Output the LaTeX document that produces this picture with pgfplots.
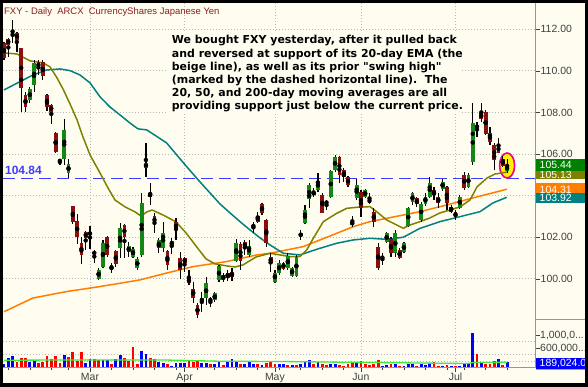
\documentclass[border=0pt]{standalone}
\usepackage{fontspec}
\setmainfont{Liberation Sans}
\newfontfamily\notefont{DejaVu Sans}
\usepackage{pgfplots}
\usepackage{pgfplotstable}
\pgfplotsset{compat=1.18}
\definecolor{bgcream}{RGB}{255,253,240}
\definecolor{upgreen}{RGB}{20,135,20}
\definecolor{dnred}{RGB}{140,15,15}
\definecolor{ma20}{RGB}{128,128,0}
\definecolor{ma50}{RGB}{0,128,128}
\definecolor{ma200}{RGB}{255,125,0}
\definecolor{boxgreen}{RGB}{0,128,0}
\definecolor{volblue}{RGB}{0,0,255}
\definecolor{volred}{RGB}{255,0,0}
\definecolor{volmacol}{RGB}{60,235,60}
\definecolor{axgray}{RGB}{64,64,64}
\definecolor{sepgray}{RGB}{150,150,150}
\definecolor{gridgray}{RGB}{185,185,185}
\definecolor{titlered}{RGB}{140,30,30}
\definecolor{lineblue}{RGB}{60,60,255}
\newcommand\axfont{\fontsize{10.5}{12}\selectfont}
\newcommand\B[2]{(#1bp,#2bp)}

\pgfplotstableread{
i o h l c
2 111.68 112.45 111.34 111.78
6 108.60 109.23 108.46 109.13
7 109.32 110.52 108.99 110.38
13 105.65 105.76 105.48 105.70
14 105.76 107.69 105.48 107.16
15 105.09 105.76 104.85 105.52
20 102.11 102.54 101.44 102.25
22 99.99 100.52 99.95 100.43
23 100.57 101.87 100.52 101.73
25 100.43 100.76 100.28 100.67
27 101.49 102.69 101.00 102.45
29 101.29 101.77 101.05 101.58
30 101.05 101.53 101.00 101.44
31 100.52 101.05 100.43 100.96
32 101.15 104.13 101.05 103.65
33 105.33 106.53 104.90 105.57
36 101.49 101.97 101.25 101.87
37 101.49 102.74 101.29 102.21
46 98.89 99.37 98.41 99.08
47 99.08 100.09 98.75 99.80
49 98.98 99.37 98.89 99.32
50 99.95 100.67 99.85 100.62
51 99.95 100.28 99.85 100.19
54 100.86 101.92 100.81 101.73
57 101.15 101.87 101.05 101.58
58 102.50 102.74 102.21 102.59
63 99.87 100.43 99.80 100.30
64 100.27 100.91 100.19 100.75
66 100.51 101.25 100.43 101.10
67 100.14 100.59 100.11 100.51
68 100.14 101.15 100.11 101.07
69 102.06 102.35 101.87 102.19
70 102.67 103.55 102.64 103.31
71 103.83 104.59 103.39 104.51
73 104.27 105.08 104.19 104.72
75 103.63 103.79 103.31 103.71
76 103.92 105.24 103.88 105.20
77 105.23 105.96 105.15 105.87
81 102.59 103.02 102.51 102.75
82 103.87 104.79 103.79 104.51
84 103.95 104.31 103.87 104.27
88 100.94 101.23 100.67 101.10
89 101.79 102.27 101.71 102.19
91 101.23 102.35 101.04 102.22
93 101.31 101.79 101.23 101.71
94 102.54 103.47 102.48 103.39
95 103.71 104.19 103.55 104.11
97 102.83 103.70 102.74 103.60
98 103.60 104.13 103.51 103.94
99 103.94 104.90 103.89 104.61
102 104.32 104.80 104.23 104.66
106 103.41 104.03 103.36 103.94
108 104.42 105.09 104.37 104.99
109 105.62 108.46 105.48 107.49
110 107.30 107.54 106.82 107.35
117 105.20 105.76 105.10 105.44
}\upc

\pgfplotstableread{
i o h l c
0 111.34 111.39 110.52 110.62
1 111.53 111.58 110.67 111.25
3 111.82 111.87 110.91 111.49
4 111.10 111.12 108.02 109.18
5 108.84 108.99 108.02 108.26
8 110.43 110.52 109.80 110.14
9 110.43 110.52 109.56 109.75
10 108.84 108.89 108.07 108.26
11 108.36 108.41 107.45 108.02
12 107.01 107.05 106.05 106.10
16 103.51 103.51 102.64 102.74
17 102.78 103.12 101.68 102.01
18 101.73 102.01 100.72 101.15
19 102.25 102.30 101.39 101.97
21 101.29 101.39 100.76 101.20
24 102.01 102.06 101.05 101.15
26 101.34 101.39 100.57 100.72
28 102.59 102.64 101.00 102.01
34 104.13 104.61 103.55 103.94
35 103.02 103.17 102.21 102.64
38 101.34 101.39 100.43 100.67
39 101.82 101.97 101.20 101.58
40 102.74 102.93 101.87 102.35
41 101.00 101.29 99.99 100.43
42 101.00 101.05 100.33 100.76
43 100.04 100.43 99.71 99.80
44 99.51 99.85 98.84 99.08
45 98.75 98.84 98.12 98.27
48 99.08 99.13 98.65 98.89
52 100.28 100.43 99.90 100.04
53 100.33 100.52 99.90 100.09
55 101.68 101.77 100.43 100.86
56 101.77 101.87 101.15 101.49
59 103.02 103.22 102.69 102.74
60 103.60 103.65 103.07 103.17
61 102.83 102.88 101.53 101.73
62 101.05 101.25 100.33 100.76
65 100.75 100.83 100.43 100.48
72 104.19 104.37 103.94 104.03
74 104.03 104.15 103.15 103.18
78 105.85 105.91 104.60 105.00
79 105.23 105.32 104.67 104.91
80 104.91 104.95 104.43 104.51
83 104.19 104.27 102.99 103.39
85 103.87 104.13 103.60 103.63
86 103.23 103.39 102.51 102.75
87 101.55 101.71 100.43 100.51
90 101.90 101.99 101.04 101.23
92 101.39 101.47 100.94 100.99
96 103.87 103.95 103.47 103.60
100 104.27 104.42 103.79 104.03
101 103.94 104.13 103.41 103.65
103 104.42 104.47 103.31 103.65
104 103.46 103.55 103.17 103.22
105 103.22 103.31 102.83 102.98
107 104.99 105.14 104.27 104.37
111 107.97 108.46 107.54 107.69
112 108.02 108.12 106.92 106.97
113 107.01 107.30 106.44 106.58
114 106.44 106.53 105.23 105.72
115 106.44 106.77 106.05 106.05
116 105.76 105.91 105.38 105.43
}\dnc

\pgfplotstableread{
i v
0 110.86
3.02 110.81
6.05 110.48
9.07 110.38
10.7 110.19
12.33 109.66
13.72 109.13
15.35 108.41
16.98 107.64
18.37 106.82
20 105.96
22.33 105.09
24.19 104.37
25.81 103.79
28.14 103.46
30.47 103.22
31.86 103.02
33.26 103.22
34.42 103.31
36.98 103.07
40 102.74
42.33 102.21
44.65 101.58
46.98 100.96
49.07 100.72
51.86 100.62
53.72 100.57
55.58 100.67
58.6 101.05
61.86 101.23
66.51 101.07
68.84 101.07
70.4 101.39
71.93 101.95
74.26 102.75
77.37 103.15
79.7 103.39
82.02 103.44
85.12 103.47
86.67 103.23
89 102.83
91.33 102.59
92.86 102.43
94.42 102.59
96.74 102.75
99.07 102.93
101.4 103.17
103.72 103.31
106.05 103.46
108.37 103.79
110 104.42
112.33 104.85
114.19 105.04
116.98 105.13
}\maolive

\pgfplotstableread{
i v
0 109.08
3.72 109.48
6.74 109.80
9.93 110.04
13.02 110.09
15.35 110.01
17.67 109.80
20 109.42
22.33 108.75
24.65 108.26
26.98 107.88
29.3 107.49
31.16 107.21
33.19 107.16
35.35 106.87
37.84 106.53
40 106.00
42.49 105.39
45.58 104.66
47.91 104.13
50.23 103.60
52.56 103.17
54.88 102.75
57.21 102.35
59.53 101.97
61.86 101.63
64.95 101.23
68.84 101.15
73.49 101.47
77.37 101.71
81.23 101.87
85.12 101.95
89 101.90
92.86 102.00
96.74 102.43
101.4 102.75
106.05 102.99
110.7 103.23
113.72 103.65
116.91 103.92
}\mateal

\pgfplotstableread{
i v
0 98.42
6.74 99.08
14.58 99.39
22.33 99.63
31.63 99.95
37.84 100.28
44.02 100.59
51.79 100.83
58.77 101.15
61.86 101.23
65.74 101.39
69.6 101.55
73.49 101.87
77.37 102.19
81.23 102.51
85.12 102.75
89 102.91
92.86 103.07
96.74 103.23
102.95 103.55
109.07 103.89
116.98 104.31
}\maorange

\pgfplotstableread{
i v
0 125
1 290
2 365
6 177
7 208
14 396
19 156
20 281
23 240
24 240
26 260
27 396
32 500
33 437
36 187
37 156
39 52
40 156
41 156
42 156
46 156
47 156
49 125
50 208
52 177
53 260
54 177
56 125
57 177
58 125
60 83
64 125
65 104
67 83
69 125
70 177
71 229
73 177
76 104
77 104
82 156
88 52
89 73
91 125
93 52
94 125
95 104
97 125
98 83
99 104
102 52
104 52
106 52
107 104
108 125
109 1073
111 177
115 260
117 189
}\volup

\pgfplotstableread{
i v
3 177
4 290
5 312
8 156
9 167
10 365
11 260
12 365
13 156
15 333
16 469
17 208
18 469
21 260
22 240
25 125
28 312
29 208
30 625
31 104
34 290
35 260
38 104
43 208
44 187
45 229
48 104
51 83
55 125
59 104
61 156
62 208
63 104
66 83
68 83
72 104
74 104
75 73
78 73
79 52
80 125
81 177
83 208
84 104
85 73
86 125
87 240
90 104
92 52
96 52
100 187
101 52
103 83
105 52
110 417
112 125
113 104
114 208
116 73
}\voldn

\pgfplotstableread{
i v
0 230
20 240
38 235
50 200
65 190
78 170
90 155
103 135
108 130
109 160
117 165
}\volma

\begin{document}
\begin{tikzpicture}
\useasboundingbox \B{0}{0} rectangle \B{588}{387};
\fill[bgcream] \B{0}{0} rectangle \B{588}{387};

\begin{axis}[
  at={(3bp,68bp)}, anchor=south west, scale only axis,
  width=532.5bp, height=316bp,
  xmin=-0.233, xmax=123.605, ymin=98.07, ymax=113.26,
  axis line style={draw=none},
  xtick={20,42,63,83,105}, xticklabels={}, xtick style={draw=none},
  ytick={100,102,104,106,108,110,112},
  yticklabels={100.00,102.00,104.00,106.00,108.00,110.00,112.00},
  ytick pos=right, yticklabel pos=right,
  ytick style={axgray, line width=0.6bp},
  tick align=outside, major tick length=4bp,
  yticklabel style={font=\axfont, text=axgray, anchor=west, inner sep=1bp},
  grid=major, major grid style={gridgray, line width=0.7bp, dash pattern=on 1bp off 2bp},
]
\draw[lineblue, line width=1.3bp, dash pattern=on 12bp off 6bp] (axis cs:-0.233,104.84) -- (axis cs:123.605,104.84);
\draw[magenta, fill=yellow, line width=1.6bp] (axis cs:117,105.45) ellipse [x radius=7.5bp, y radius=12.5bp];
\addplot[ma200, line width=1.5bp, mark=none] table[x=i,y=v]{\maorange};
\addplot[ma50, line width=1.5bp, mark=none] table[x=i,y=v]{\mateal};
\addplot[ma20, line width=1.5bp, mark=none] table[x=i,y=v]{\maolive};
\addplot[only marks, mark=none, error bars/.cd, y dir=both, y explicit, error mark=none,
  error bar style={line width=1.2bp, black}]
  table[x=i, y expr={(\thisrow{h}+\thisrow{l})/2}, y error expr={(\thisrow{h}-\thisrow{l})/2}]{\upc};
\addplot[only marks, mark=none, error bars/.cd, y dir=both, y explicit, error mark=none,
  error bar style={line width=1.2bp, black}]
  table[x=i, y expr={(\thisrow{h}+\thisrow{l})/2}, y error expr={(\thisrow{h}-\thisrow{l})/2}]{\dnc};
\addplot[only marks, mark=none, error bars/.cd, y dir=both, y explicit, error mark=none,
  error bar style={line width=3.8bp, upgreen}]
  table[x=i, y expr={(\thisrow{o}+\thisrow{c})/2}, y error expr={abs(\thisrow{c}-\thisrow{o})/2}]{\upc};
\addplot[only marks, mark=none, error bars/.cd, y dir=both, y explicit, error mark=none,
  error bar style={line width=3.8bp, dnred}]
  table[x=i, y expr={(\thisrow{o}+\thisrow{c})/2}, y error expr={abs(\thisrow{c}-\thisrow{o})/2}]{\dnc};
\end{axis}

\begin{axis}[
  at={(3bp,19.3bp)}, anchor=south west, scale only axis,
  width=532.5bp, height=48.7bp,
  xmin=-0.233, xmax=123.605, ymin=0, ymax=1500,
  axis line style={draw=none},
  xtick={20,42,63,83,105}, xticklabels={Mar,Apr,May,Jun,Jul},
  minor xtick={1,6,11,15,25,30,35,40,45,49,54,59,64,69,74,79,88,93,98,103,107,112,117},
  xtick pos=bottom, ytick pos=right, yticklabel pos=right,
  ytick={600,1000}, yticklabels={},
  tick align=outside, major tick length=4bp, minor tick length=2.5bp,
  tick style={axgray, line width=0.6bp},
  xmajorgrids,
  extra y ticks={200,400,800}, extra y tick labels={},
  extra y tick style={grid=major, tick style={draw=none}},
  major grid style={gridgray, line width=0.7bp, dash pattern=on 1bp off 2bp},
  xticklabel style={font=\axfont, text=axgray, inner sep=1.5bp},
]
\addplot[ycomb, volblue, line width=2.8bp, mark=none] table[x=i,y=v]{\volup};
\addplot[ycomb, volred, line width=2.8bp, mark=none] table[x=i,y=v]{\voldn};
\addplot[volmacol, line width=1.3bp, mark=none] table[x=i,y=v]{\volma};
\end{axis}

% frame lines
\draw[sepgray, line width=0.8bp] \B{535.5}{19} -- \B{535.5}{384};
\draw[sepgray, line width=0.8bp] \B{535.5}{68} -- \B{588}{68};
\draw[sepgray, line width=0.8bp] \B{3}{19.3} -- \B{535.5}{19.3};

% volume labels
\node[anchor=west, text=axgray, font=\axfont, inner sep=0] at \B{540}{51.8} {1,000,0...};
\node[anchor=west, text=axgray, font=\axfont, inner sep=0] at \B{540}{38.8} {600,000...};

% value boxes
\fill[ma20] \B{536}{208} rectangle \B{588}{219};
\node[anchor=west, text=white, font=\axfont, inner sep=0] at \B{539.5}{212} {105.13};
\fill[boxgreen] \B{536}{216} rectangle \B{588}{227.5};
\node[anchor=west, text=white, font=\axfont, inner sep=0] at \B{539.5}{222} {105.44};
\fill[ma200] \B{536}{194.3} rectangle \B{588}{204.3};
\node[anchor=west, text=white, font=\axfont, inner sep=0] at \B{539.5}{197} {104.31};
\fill[ma50] \B{536}{183.7} rectangle \B{588}{194.3};
\node[anchor=west, text=white, font=\axfont, inner sep=0] at \B{539.5}{189} {103.92};
\fill[volblue] \B{536}{17.5} rectangle \B{588}{28.7};
\node[anchor=west, text=white, font=\axfont, inner sep=0] at \B{539.5}{23} {189,024.0};
\draw[volmacol, line width=1bp] \B{536}{17.5} -- \B{588}{17.5};

% annotation
\fill[bgcream] \B{168}{273} rectangle \B{462}{356};
\begin{scope}[every node/.style={anchor=base west, inner sep=0, font=\notefont\bfseries\fontsize{11}{13}\selectfont}]
\node at \B{171.7}{343} {We bought FXY yesterday, after it pulled back};
\node at \B{171.7}{329.9} {and reversed at support of its 20-day EMA (the};
\node at \B{171.7}{316.8} {beige line), as well as its prior "swing high"};
\node at \B{171.7}{303.8} {(marked by the dashed horizontal line).\ \ The};
\node at \B{171.7}{290.7} {20, 50, and 200-day moving averages are all};
\node at \B{171.7}{277.7} {providing support just below the current price.};
\end{scope}

\node[anchor=base west, inner sep=0, text=titlered, font=\fontsize{9.5}{12}\selectfont] at \B{4}{372} {FXY - Daily\ \ ARCX\ \ CurrencyShares Japanese Yen};
\node[anchor=base west, inner sep=0, text=lineblue, font=\bfseries\fontsize{12}{14}\selectfont] at \B{5}{212} {104.84};

% outer border
\draw[black, line width=3bp] \B{1.5}{1.5} rectangle \B{586.5}{385.5};
\fill[black] \B{0}{0} rectangle \B{588}{4.3};
\end{tikzpicture}
\end{document}
